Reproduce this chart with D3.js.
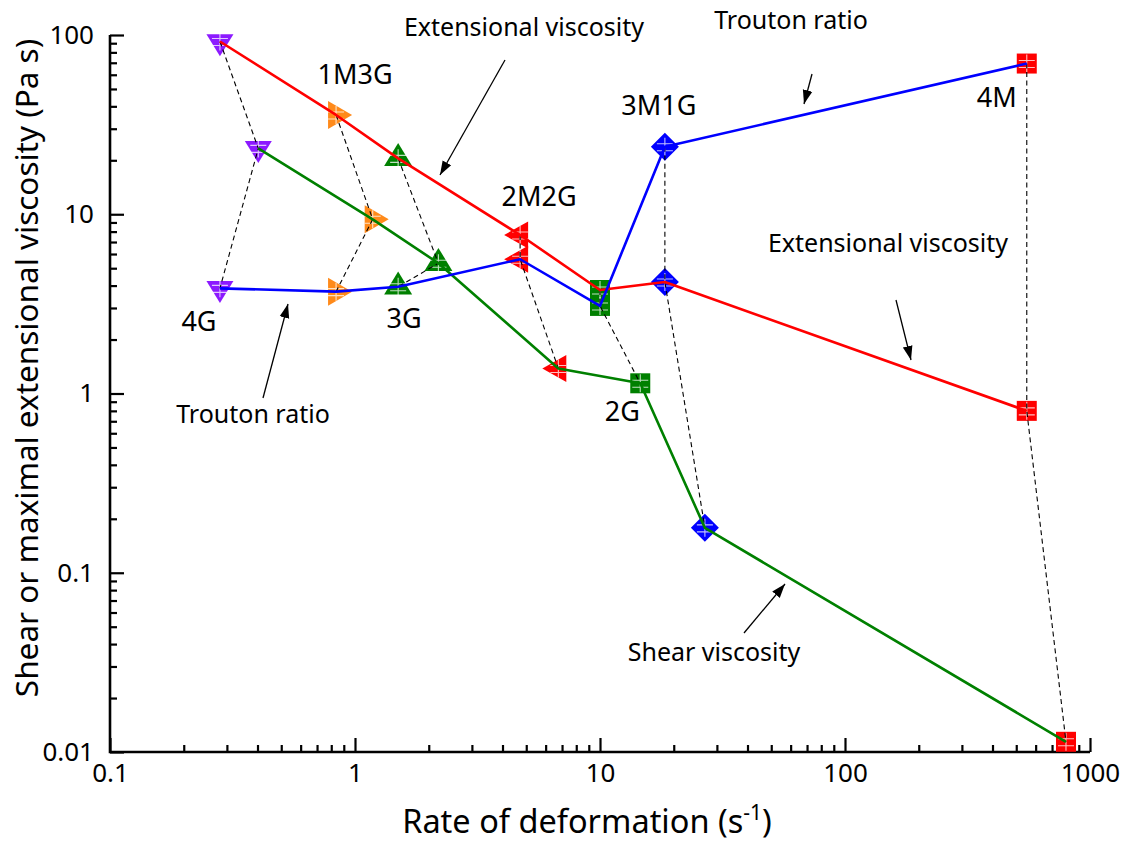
<!DOCTYPE html>
<html>
<head>
<meta charset="utf-8">
<script src="https://cdn.jsdelivr.net/npm/d3@7"></script>
<style>
  html, body { margin: 0; padding: 0; background: #fff; }
  svg { display: block; font-family: "Noto Sans", "Open Sans", sans-serif; }
</style>
</head>
<body>
<svg id="chart" width="1132" height="846"></svg>
<script>
// ---- data ----
const samples = ["4G", "1M3G", "3G", "2M2G", "2G", "3M1G", "4M"];
const markerShapes = ["triDown", "triRight", "triUp", "triLeft", "square", "diamond", "square"];
const markerColors = ["#8c1aff", "#ff8a1a", "#008000", "#ff0000", "#008000", "#0000ff", "#ff0000"];
// rate of deformation for extensional viscosity & Trouton ratio points
const rateExt = [0.281, 0.837, 1.50, 4.72, 10.0, 18.4, 552];
// rate of deformation for shear viscosity points
const rateShear = [0.403, 1.181, 2.19, 6.76, 14.6, 26.8, 798];
const extensionalViscosity = [92, 35.8, 20.5, 7.66, 3.78, 4.19, 0.80];
const shearViscosity = [23.3, 9.37, 5.33, 1.38, 1.14, 0.178, 0.0114];
const troutonRatio = [3.86, 3.70, 3.94, 5.61, 3.08, 23.8, 69.3];
const xTicks = [0.1, 1, 10, 100, 1000];
const xTickLabels = ["0.1", "1", "10", "100", "1000"];
const yTicks = [0.01, 0.1, 1, 10, 100];
const yTickLabels = ["0.01", "0.1", "1", "10", "100"];

// ---- layout ----
const svg = d3.select("#chart");
const x = d3.scaleLog().domain([0.1, 1000]).range([110, 1090]);
const y = d3.scaleLog().domain([0.01, 100]).range([752, 35]);

function minors(domain) {
  const out = [];
  for (let d = domain[0]; d < domain[1] * 0.999; d *= 10)
    for (let k = 2; k <= 9; k++) out.push(d * k);
  return out;
}

// ---- axes ----
const gx = svg.append("g").attr("transform", `translate(0,${y.range()[0]})`);
gx.append("g").call(d3.axisBottom(x).tickValues(minors(x.domain())).tickSize(-7).tickFormat(""));
gx.append("g").call(d3.axisBottom(x).tickValues(xTicks).tickSize(-14).tickPadding(12)
  .tickFormat((d, i) => xTickLabels[i]));
const gy = svg.append("g").attr("transform", `translate(${x.range()[0]},0)`);
gy.append("g").call(d3.axisLeft(y).tickValues(minors(y.domain())).tickSize(-7).tickFormat(""));
gy.append("g").call(d3.axisLeft(y).tickValues(yTicks).tickSize(-14).tickPadding(16)
  .tickFormat((d, i) => yTickLabels[i]));
svg.selectAll(".domain").remove();
svg.selectAll(".tick line").attr("stroke", "#000").attr("stroke-width", 2.2);
svg.selectAll(".tick text").attr("fill", "#000").style("font-size", "26px")
  .style("font-family", "'Noto Sans', sans-serif");
svg.append("path")
  .attr("d", `M${x.range()[0]},${y.range()[1]}V${y.range()[0]}H${x.range()[1]}`)
  .attr("fill", "none").attr("stroke", "#000").attr("stroke-width", 2.6);

// axis titles
svg.append("text")
  .attr("x", 587)
  .attr("y", 833)
  .attr("text-anchor", "middle")
  .attr("font-size", 32.5)
  .attr("fill", "#000")
  .call(t => {
    t.append("tspan").text("Rate of deformation (s");
    t.append("tspan").attr("dy", -13).attr("font-size", 21).text("-1");
    t.append("tspan").attr("dy", 13).text(")");
  });
svg.append("text")
  .attr("transform", `translate(38,368) rotate(-90)`)
  .attr("text-anchor", "middle")
  .attr("font-size", 31.5)
  .attr("fill", "#000")
  .text("Shear or maximal extensional viscosity (Pa s)");

// ---- markers ----
function markerPath(shape) {
  const p = d3.path();
  switch (shape) {
    case "triDown": { const w = 27, h = 22; p.moveTo(-w/2, -h/3); p.lineTo(w/2, -h/3); p.lineTo(0, 2*h/3); p.closePath(); break; }
    case "triUp":   { const w = 28, h = 23; p.moveTo(-w/2, h/3); p.lineTo(w/2, h/3); p.lineTo(0, -2*h/3); p.closePath(); break; }
    case "triRight":{ const w = 24, h = 28; p.moveTo(-w/3, -h/2); p.lineTo(-w/3, h/2); p.lineTo(2*w/3, 0); p.closePath(); break; }
    case "triLeft": { const w = 24, h = 27; p.moveTo(w/3, -h/2); p.lineTo(w/3, h/2); p.lineTo(-2*w/3, 0); p.closePath(); break; }
    case "square":  { const s = 10; p.rect(-s, -s, 2*s, 2*s); break; }
    case "diamond": { const r = 14; p.moveTo(0, -r); p.lineTo(r, 0); p.lineTo(0, r); p.lineTo(-r, 0); p.closePath(); break; }
  }
  return p.toString();
}

const points = [];
samples.forEach((s, i) => {
  points.push({ s: i, kind: "ext", rx: rateExt[i], v: extensionalViscosity[i] });
  points.push({ s: i, kind: "shear", rx: rateShear[i], v: shearViscosity[i] });
  points.push({ s: i, kind: "trouton", rx: rateExt[i], v: troutonRatio[i] });
});

const gm = svg.append("g");
gm.selectAll("path.marker").data(points).join("path")
  .attr("class", "marker")
  .attr("transform", d => `translate(${x(d.rx)},${y(d.v)})`)
  .attr("d", d => markerPath(markerShapes[d.s]))
  .attr("fill", d => markerColors[d.s]);
// white error-bar crosses
gm.selectAll("path.cross").data(points).join("path")
  .attr("class", "cross")
  .attr("transform", d => `translate(${x(d.rx)},${y(d.v)})`)
  .attr("d", "M-8,-3H8M0,-9V9M-8,4H8")
  .attr("stroke", "#fff").attr("stroke-width", 1.1).attr("fill", "none").attr("opacity", 0.75);

// ---- dashed connectors per sample (sorted by value) ----
const dashLine = d3.line().x(d => x(d.rx)).y(d => y(d.v));
samples.forEach((s, i) => {
  const pts = points.filter(p => p.s === i).sort((a, b) => b.v - a.v);
  svg.append("path").attr("d", dashLine(pts))
    .attr("fill", "none").attr("stroke", "#000").attr("stroke-width", 1.1)
    .attr("stroke-dasharray", "5,3.5");
});

// ---- series lines ----
const line = d3.line().x(d => x(d[0])).y(d => y(d[1]));
const series = [
  { color: "#ff0000", data: rateExt.map((r, i) => [r, extensionalViscosity[i]]) },
  { color: "#008000", data: rateShear.map((r, i) => [r, shearViscosity[i]]) },
  { color: "#0000ff", data: rateExt.map((r, i) => [r, troutonRatio[i]]) }
];
series.forEach(sr => {
  svg.append("path").attr("d", line(sr.data))
    .attr("fill", "none").attr("stroke", sr.color).attr("stroke-width", 2.6)
    .attr("stroke-linejoin", "round");
});

// ---- sample labels (anchored to a data point) ----
const labelAnchor = [
  { kind: "trouton", dx: -21, dy: 43 },
  { kind: "ext", dx: 19, dy: -31 },
  { kind: "trouton", dx: 6, dy: 41 },
  { kind: "ext", dx: 19, dy: -29 },
  { kind: "shear", dx: -18, dy: 38 },
  { kind: "trouton", dx: -6, dy: -32 },
  { kind: "trouton", dx: -30, dy: 43 }
];
samples.forEach((s, i) => {
  const a = labelAnchor[i];
  const p = points.find(q => q.s === i && q.kind === a.kind);
  svg.append("text")
    .attr("x", x(p.rx) + a.dx).attr("y", y(p.v) + a.dy)
    .attr("text-anchor", "middle").attr("font-size", 27).attr("fill", "#000")
    .text(s);
});

// ---- annotations with arrows ----
const defs = svg.append("defs");
defs.append("marker").attr("id", "ah").attr("viewBox", "0 0 10 10")
  .attr("refX", 10).attr("refY", 5).attr("markerWidth", 14).attr("markerHeight", 14)
  .attr("markerUnits", "userSpaceOnUse").attr("orient", "auto")
  .append("path").attr("d", "M0,1.5L10,5L0,8.5Z").attr("fill", "#000");
const notes = [
  { text: "Extensional viscosity", tx: 524, ty: 36, a: [505, 60, 440, 175] },
  { text: "Trouton ratio", tx: 791, ty: 29, a: [812, 74, 804, 104] },
  { text: "Extensional viscosity", tx: 888, ty: 252, a: [896, 300, 911, 360] },
  { text: "Trouton ratio", tx: 253, ty: 423, a: [263, 398, 288, 304] },
  { text: "Shear viscosity", tx: 714, ty: 661, a: [744, 633, 785, 584] }
];
notes.forEach(n => {
  svg.append("text").attr("x", n.tx).attr("y", n.ty)
    .attr("text-anchor", "middle").attr("font-size", 25).attr("fill", "#000").text(n.text);
  svg.append("line").attr("x1", n.a[0]).attr("y1", n.a[1]).attr("x2", n.a[2]).attr("y2", n.a[3])
    .attr("stroke", "#000").attr("stroke-width", 1.3).attr("marker-end", "url(#ah)");
});
</script>
</body>
</html>
